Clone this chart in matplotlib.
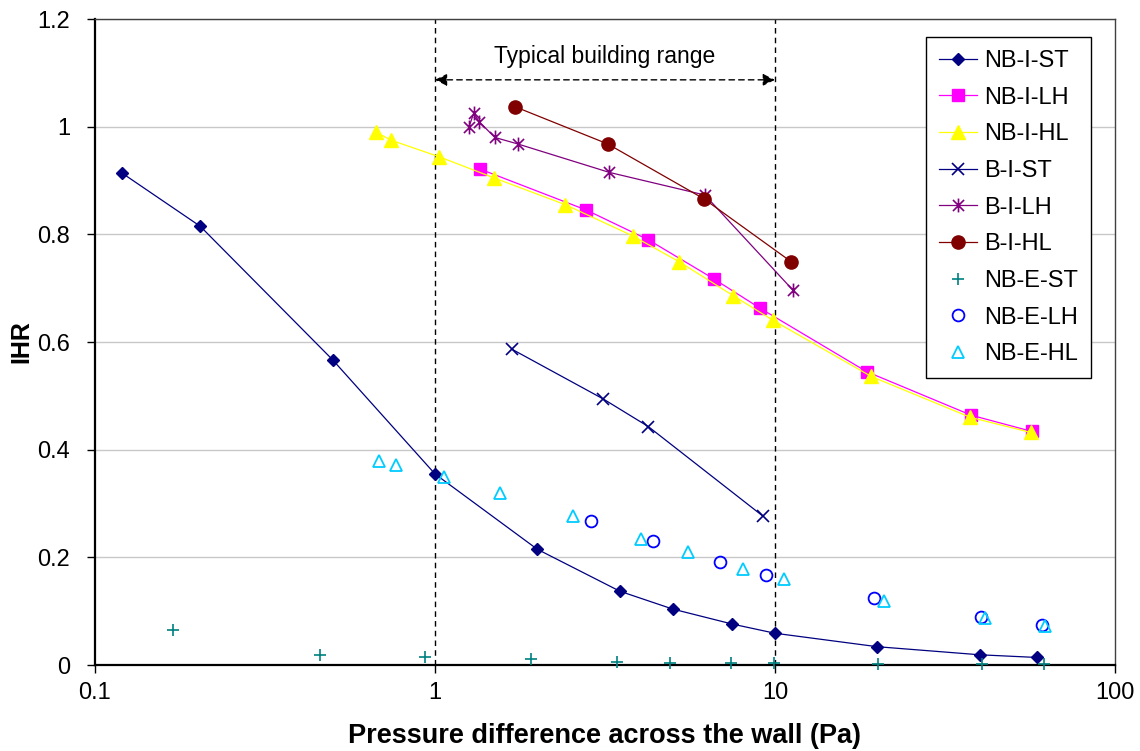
import matplotlib
matplotlib.use("Agg")
import matplotlib.pyplot as plt
from matplotlib.path import Path
from matplotlib.ticker import FixedLocator, FuncFormatter, NullLocator

plt.rcParams['font.family'] = ['Liberation Sans', 'DejaVu Sans']

# ---- data -------------------------------------------------------------
nb_i_st_x = [0.12, 0.204, 0.50, 1.0, 2.0, 3.5, 5.0, 7.5, 10.0, 20.0, 40.0, 59.0]
nb_i_st_y = [0.914, 0.815, 0.567, 0.355, 0.215, 0.137, 0.104, 0.076, 0.059, 0.034, 0.019, 0.014]

nb_i_lh_x = [1.36, 2.79, 4.24, 6.62, 9.03, 18.6, 37.8, 56.9]
nb_i_lh_y = [0.921, 0.845, 0.790, 0.717, 0.663, 0.545, 0.464, 0.434]

nb_i_hl_x = [0.671, 0.742, 1.03, 1.49, 2.42, 3.82, 5.23, 7.54, 9.89, 19.2, 37.6, 56.5]
nb_i_hl_y = [0.990, 0.975, 0.944, 0.905, 0.855, 0.797, 0.749, 0.686, 0.640, 0.536, 0.460, 0.432]

b_i_st_x = [1.68, 3.13, 4.24, 9.2]
b_i_st_y = [0.587, 0.494, 0.443, 0.277]

b_i_lh_x = [1.26, 1.30, 1.35, 1.50, 1.75, 3.26, 6.22, 11.27]
b_i_lh_y = [1.000, 1.025, 1.009, 0.980, 0.968, 0.915, 0.873, 0.697]

b_i_hl_x = [1.72, 3.22, 6.18, 11.17]
b_i_hl_y = [1.037, 0.968, 0.866, 0.749]

nb_e_st_x = [0.170, 0.459, 0.935, 1.92, 3.42, 4.91, 7.41, 9.95, 20.1, 40.6, 61.8]
nb_e_st_y = [0.065, 0.018, 0.014, 0.012, 0.006, 0.004, 0.004, 0.003, 0.002, 0.002, 0.001]

nb_e_lh_x = [2.88, 4.37, 6.89, 9.39, 19.6, 40.3, 61.1]
nb_e_lh_y = [0.268, 0.230, 0.191, 0.168, 0.124, 0.089, 0.074]

nb_e_hl_x = [0.686, 0.766, 1.06, 1.55, 2.55, 4.05, 5.56, 8.04, 10.6, 20.9, 41.5, 62.1]
nb_e_hl_y = [0.379, 0.372, 0.350, 0.320, 0.277, 0.235, 0.209, 0.178, 0.159, 0.119, 0.087, 0.072]

range_lo, range_hi = 1.0, 10.0
range_label = "Typical building range"
x_ticks = [0.1, 1, 10, 100]
y_ticks = [0, 0.2, 0.4, 0.6, 0.8, 1.0, 1.2]

# asterisk marker: an "x" with a vertical stroke
star = Path([(0, -1), (0, 1), (-0.8, -0.8), (0.8, 0.8), (-0.8, 0.8), (0.8, -0.8)],
            [Path.MOVETO, Path.LINETO, Path.MOVETO, Path.LINETO, Path.MOVETO, Path.LINETO])

# ---- figure -----------------------------------------------------------
fig = plt.figure(figsize=(11.4, 7.51), dpi=100)
ax = fig.add_axes([0.0833, 0.1145, 0.8947, 0.8602])

lw = 0.9
ax.plot(nb_i_st_x, nb_i_st_y, color='#000080', lw=lw, marker='D', ms=5.8,
        mfc='#000080', mec='#000080', label='NB-I-ST', zorder=3)
ax.plot(nb_i_lh_x, nb_i_lh_y, color='#FF00FF', lw=lw, marker='s', ms=8.5,
        mfc='#FF00FF', mec='#FF00FF', label='NB-I-LH', zorder=3)
ax.plot(nb_i_hl_x, nb_i_hl_y, color='#FFFF00', lw=lw, marker='^', ms=9.5,
        mfc='#FFFF00', mec='#FFFF00', label='NB-I-HL', zorder=3)
ax.plot(b_i_st_x, b_i_st_y, color='#000080', lw=lw, marker='x', ms=9,
        mew=1.2, mec='#000080', label='B-I-ST', zorder=3)
ax.plot(b_i_lh_x, b_i_lh_y, color='#800080', lw=lw, marker=star, ms=10,
        mew=1.2, mec='#800080', mfc='none', label='B-I-LH', zorder=3)
ax.plot(b_i_hl_x, b_i_hl_y, color='#800000', lw=lw, marker='o', ms=9.5,
        mfc='#800000', mec='#800000', label='B-I-HL', zorder=3)
ax.plot(nb_e_st_x, nb_e_st_y, ls='none', marker='+', ms=9, mew=1.2,
        mec='#008080', label='NB-E-ST', zorder=3, clip_on=False)
ax.plot(nb_e_lh_x, nb_e_lh_y, ls='none', marker='o', ms=8.5, mew=1.3,
        mec='#0000FF', mfc='none', label='NB-E-LH', zorder=3)
ax.plot(nb_e_hl_x, nb_e_hl_y, ls='none', marker='^', ms=9, mew=1.3,
        mec='#00CCFF', mfc='none', label='NB-E-HL', zorder=3)

# building range markers
for xv in (range_lo, range_hi):
    ax.axvline(xv, color='black', lw=1.0, ls=(0, (4, 3)), zorder=2)
ax.annotate('', xy=(range_lo, 1.087), xytext=(range_hi, 1.087),
            arrowprops=dict(arrowstyle='<|-|>', color='black', lw=1.0,
                            ls=(0, (4, 3)), mutation_scale=18, shrinkA=0, shrinkB=0))
ax.text((range_lo * range_hi) ** 0.5, 1.131, range_label, ha='center', va='center',
        fontsize=16.5)

# axes, scales, grid
ax.set_xscale('log')
ax.set_xlim(0.1, 100)
ax.set_ylim(0, 1.2)
ax.xaxis.set_major_locator(FixedLocator(x_ticks))
ax.xaxis.set_minor_locator(NullLocator())
ax.xaxis.set_major_formatter(FuncFormatter(lambda v, p: '%g' % v))
ax.yaxis.set_major_locator(FixedLocator(y_ticks))
ax.yaxis.set_major_formatter(FuncFormatter(lambda v, p: '%g' % v))
ax.grid(axis='y', color='#C8C8C8', lw=1.0, zorder=0)
ax.set_axisbelow(True)
ax.tick_params(axis='both', direction='out', length=6, width=1.0,
               labelsize=17, top=False, right=False)
ax.tick_params(axis='y', pad=12)
ax.tick_params(axis='x', pad=6)

for side in ('left', 'bottom'):
    ax.spines[side].set_linewidth(1.6)
for side in ('top', 'right'):
    ax.spines[side].set_linewidth(1.0)
    ax.spines[side].set_color('#404040')

ax.set_xlabel('Pressure difference across the wall (Pa)', fontsize=19.5,
              fontweight='bold', labelpad=14)
ax.set_ylabel('IHR', fontsize=18, fontweight='bold', labelpad=3)

leg = ax.legend(loc='upper left', bbox_to_anchor=(0.815, 0.972), fontsize=17,
                frameon=True, fancybox=False, edgecolor='black', framealpha=1,
                handlelength=1.6, handletextpad=0.3, labelspacing=0.62,
                borderpad=0.55, borderaxespad=0)
leg.get_frame().set_linewidth(1.0)

fig.savefig('out.png', dpi=100)
